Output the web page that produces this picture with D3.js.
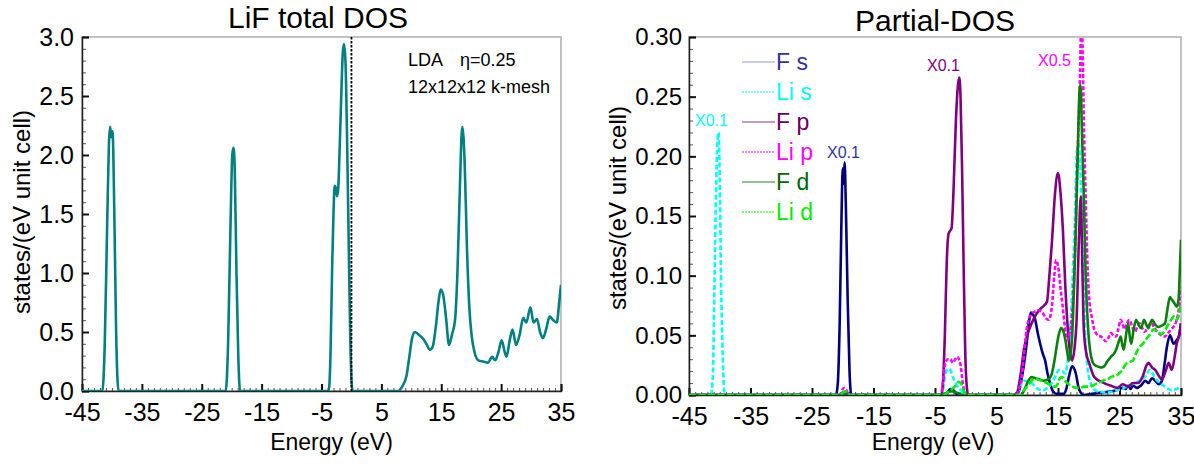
<!DOCTYPE html>
<html>
<head>
<meta charset="utf-8">
<script src="https://cdn.jsdelivr.net/npm/d3@7"></script>
<style>
  body { margin: 0; background: #fff; }
  svg { display: block; font-family: "Liberation Sans", Arial, sans-serif; }
</style>
</head>
<body>
<svg id="chart" width="1194" height="467"></svg>
<script>
// ---- data: energy (eV) vs density of states ----
const energyDomain = [-45, 35];
const energyTicks = [-45, -35, -25, -15, -5, 5, 15, 25, 35];
const totalTicks = [0, 0.5, 1.0, 1.5, 2.0, 2.5, 3.0];
const partialTicks = [0, 0.05, 0.10, 0.15, 0.20, 0.25, 0.30];

const totalDOS = [
  [-45,0],[-41.6,0],[-41.2,0.4],[-40.8,1.4],[-40.5,2.1],[-40.3,2.24],[-40.1,2.15],[-39.9,2.2],[-39.6,1.5],[-39.3,0.5],[-38.9,0],
  [-21,0],[-20.6,0.4],[-20.2,1.4],[-19.9,2.0],[-19.7,2.06],[-19.5,1.9],[-19.2,1.0],[-18.9,0.3],[-18.6,0],
  [-3.8,0],[-3.5,0.3],[-3.2,1.1],[-3.0,1.5],[-2.8,1.74],[-2.6,1.72],[-2.4,1.65],[-2.2,1.72],[-2.0,2.0],[-1.7,2.5],[-1.45,2.86],[-1.25,2.94],[-1.0,2.8],[-0.75,2.2],[-0.5,1.4],[-0.25,0.6],[0,0.1],[0.2,0],
  [7.8,0],[8.5,0.04],[9.2,0.13],[9.7,0.3],[10.1,0.44],[10.6,0.5],[11.4,0.47],[12.0,0.44],[12.5,0.4],[13.1,0.35],[13.6,0.38],[14.1,0.55],[14.6,0.78],[14.9,0.86],[15.3,0.82],[15.8,0.62],[16.3,0.39],[16.8,0.48],[17.3,0.6],[17.7,1.0],[18.1,1.7],[18.5,2.24],[18.9,1.95],[19.3,1.2],[19.7,0.7],[20.1,0.46],[20.6,0.32],[21.2,0.26],[22.0,0.25],[22.8,0.24],[23.5,0.29],[24.0,0.26],[24.5,0.32],[25.1,0.43],[25.6,0.33],[25.9,0.29],[26.4,0.42],[26.9,0.52],[27.5,0.39],[28.1,0.48],[28.7,0.62],[29.2,0.58],[29.9,0.71],[30.4,0.58],[31.0,0.61],[31.5,0.5],[32.0,0.45],[32.5,0.52],[33.1,0.63],[33.7,0.6],[34.3,0.58],[34.7,0.75],[35,0.9]
];

// partial DOS, values as plotted (some channels scaled, see labels)
const fS = [
  [-45,0],[-21.1,0],[-20.8,0.01],[-20.5,0.06],[-20.2,0.15],[-20.0,0.19],[-19.85,0.177],[-19.7,0.195],[-19.5,0.16],[-19.2,0.08],[-18.9,0.02],[-18.6,0],
  [-3.5,0],[-3.0,0.002],[-2.5,0.005],[-2.0,0.004],[-1.5,0.001],[-1,0],
  [8.3,0],[8.8,0.006],[9.3,0.02],[9.9,0.043],[10.3,0.062],[10.6,0.069],[11.0,0.067],[11.3,0.063],[11.7,0.052],[12.1,0.043],[12.5,0.035],[12.9,0.029],[13.3,0.018],[13.7,0.01],[14.2,0.003],[14.8,0.001],[15.9,0.001],[16.4,0.006],[16.8,0.016],[17.3,0.024],[17.9,0.018],[18.4,0.005],[19.2,0],[20.5,0.001],[22,0.002],[23.5,0.003],[24.5,0.004],[25.5,0.006],[26.0,0.005],[26.4,0.008],[26.8,0.005],[27.2,0.008],[27.8,0.006],[28.5,0.008],[29.2,0.012],[29.7,0.01],[30.3,0.014],[30.8,0.012],[31.4,0.009],[31.9,0.012],[32.3,0.025],[32.7,0.04],[33.2,0.05],[33.8,0.043],[34.3,0.046],[34.7,0.05],[35,0.06]
];
const liS = [
  [-45,0],[-41.4,0],[-41.1,0.02],[-40.9,0.08],[-40.6,0.17],[-40.4,0.21],[-40.2,0.22],[-40.0,0.18],[-39.8,0.1],[-39.5,0.03],[-39.2,0],
  [-20.6,0],[-20.0,0.002],[-19.5,0.002],[-19,0],
  [-3.9,0],[-3.6,0.008],[-3.3,0.018],[-2.8,0.022],[-2.5,0.021],[-2.1,0.015],[-1.65,0.01],[-1.2,0.006],[-0.8,0.004],[-0.3,0.001],[0,0],
  [8.2,0],[8.8,0.007],[9.6,0.012],[10.2,0.011],[10.7,0.01],[11.5,0.006],[12.6,0.004],[13.3,0.006],[14,0.01],[14.6,0.016],[15.1,0.021],[15.7,0.02],[16.2,0.018],[16.6,0.03],[17.0,0.055],[17.4,0.1],[17.7,0.138],[18.1,0.205],[18.4,0.21],[18.6,0.195],[19.0,0.124],[19.3,0.07],[19.5,0.04],[20.3,0.01],[21.4,0.003],[23,0.002],[24.5,0.004],[25.8,0.006],[26.5,0.008],[27.5,0.01],[28.3,0.012],[29.1,0.015],[29.9,0.021],[30.4,0.018],[30.8,0.014],[31.6,0.01],[32.4,0.007],[33.5,0.004],[34.3,0.005],[35,0.007]
];
const fP = [
  [-45,0],[-20.5,0],[-20,0.002],[-19.5,0.001],[-19,0],
  [-4.0,0],[-3.7,0.01],[-3.4,0.05],[-3.1,0.11],[-2.8,0.135],[-2.5,0.138],[-2.3,0.14],[-2.0,0.17],[-1.6,0.23],[-1.3,0.258],[-1.05,0.266],[-0.85,0.25],[-0.6,0.19],[-0.35,0.11],[-0.1,0.04],[0.15,0.008],[0.4,0],
  [8.2,0],[8.7,0.01],[9.0,0.02],[9.45,0.038],[10.0,0.05],[10.7,0.06],[11.5,0.068],[12.3,0.073],[13.2,0.078],[13.6,0.1],[14.0,0.127],[14.5,0.168],[15.0,0.186],[15.4,0.17],[15.8,0.138],[16.2,0.09],[16.6,0.055],[17.0,0.035],[17.3,0.029],[17.7,0.04],[18.0,0.06],[18.4,0.13],[18.7,0.166],[18.95,0.11],[19.2,0.055],[19.6,0.035],[20.05,0.027],[20.9,0.015],[22.5,0.01],[23.5,0.008],[24.7,0.006],[25.5,0.009],[26.4,0.007],[27.2,0.01],[28,0.01],[28.8,0.016],[29.4,0.025],[29.7,0.027],[30.3,0.023],[30.8,0.021],[31.4,0.016],[31.9,0.013],[32.5,0.02],[33,0.027],[33.5,0.021],[34.0,0.033],[34.3,0.043],[34.7,0.05],[35,0.06]
];
const liP = [
  [-45,0],[-20.5,0],[-20,0.005],[-19.7,0.006],[-19.3,0.003],[-19,0],
  [-4.0,0],[-3.7,0.012],[-3.3,0.027],[-2.9,0.03],[-2.5,0.03],[-2.1,0.027],[-1.7,0.03],[-1.4,0.032],[-1.1,0.03],[-0.8,0.024],[-0.5,0.01],[-0.2,0.003],[0.1,0],
  [8.3,0],[8.7,0.006],[9.1,0.015],[9.5,0.035],[9.9,0.055],[10.3,0.064],[10.7,0.068],[11.3,0.07],[11.8,0.071],[12.2,0.07],[12.6,0.068],[13.1,0.064],[13.5,0.063],[14.0,0.074],[14.4,0.1],[14.7,0.113],[15.1,0.105],[15.4,0.09],[15.7,0.077],[16.1,0.058],[16.5,0.046],[16.9,0.052],[17.3,0.068],[17.7,0.11],[18.0,0.166],[18.3,0.22],[18.6,0.27],[18.8,0.32],[19.0,0.29],[19.2,0.23],[19.5,0.166],[19.8,0.11],[20.05,0.082],[20.5,0.065],[20.9,0.055],[21.5,0.05],[22.0,0.049],[22.8,0.045],[23.2,0.048],[23.6,0.052],[24.0,0.05],[24.45,0.049],[24.8,0.055],[25.2,0.063],[25.5,0.06],[25.8,0.055],[26.2,0.06],[26.6,0.063],[27.0,0.058],[27.5,0.053],[27.9,0.057],[28.3,0.06],[28.7,0.056],[29.1,0.053],[29.7,0.058],[30.2,0.06],[30.7,0.056],[31.3,0.052],[31.8,0.05],[32.4,0.049],[32.9,0.052],[33.4,0.055],[34.1,0.06],[34.6,0.07],[35,0.09]
];
const fD = [
  [-45,0],[-20.5,0],[-20,0.002],[-19.5,0.001],[-19,0],
  [-4,0],[-3.5,0.001],[-3,0.002],[-2.5,0.003],[-2,0.003],[-1.5,0.002],[-1,0.001],[-0.5,0],
  [9.0,0],[9.5,0.004],[10.0,0.01],[10.7,0.015],[11.3,0.014],[12.0,0.013],[12.7,0.012],[13.2,0.0125],[13.6,0.014],[14.0,0.018],[14.4,0.028],[14.7,0.038],[15.1,0.05],[15.5,0.056],[15.9,0.053],[16.2,0.046],[16.5,0.036],[16.75,0.029],[17.0,0.033],[17.3,0.049],[17.6,0.09],[17.9,0.138],[18.2,0.2],[18.5,0.255],[18.65,0.26],[18.9,0.22],[19.2,0.166],[19.5,0.1],[19.9,0.055],[20.2,0.038],[20.6,0.028],[21.0,0.025],[21.4,0.024],[22.0,0.023],[22.5,0.024],[23.0,0.028],[23.6,0.032],[24.0,0.034],[24.45,0.038],[24.9,0.045],[25.2,0.049],[25.45,0.042],[25.7,0.038],[26.0,0.048],[26.4,0.06],[26.65,0.05],[26.9,0.043],[27.3,0.055],[27.7,0.063],[28.1,0.059],[28.5,0.056],[29.0,0.063],[29.35,0.059],[29.7,0.056],[30.0,0.06],[30.3,0.063],[30.8,0.059],[31.3,0.057],[31.8,0.058],[32.4,0.06],[32.8,0.072],[33.2,0.082],[33.5,0.08],[33.8,0.078],[34.3,0.074],[34.6,0.08],[34.85,0.11],[35,0.13]
];
const liD = [
  [-45,0],[-20.5,0],[-20,0.002],[-19.6,0.003],[-19.2,0.001],[-18.8,0],
  [-3.5,0],[-3.0,0.002],[-2.5,0.004],[-2.0,0.006],[-1.6,0.008],[-1.2,0.011],[-0.8,0.01],[-0.5,0.006],[-0.2,0.002],[0.2,0],
  [9.0,0],[9.3,0.003],[9.8,0.006],[10.4,0.01],[10.9,0.013],[11.3,0.014],[11.7,0.013],[12.1,0.0125],[12.6,0.011],[13.2,0.01],[13.9,0.008],[14.6,0.007],[15.0,0.01],[15.3,0.014],[15.7,0.015],[16.1,0.012],[16.5,0.01],[17.3,0.007],[18.1,0.006],[18.7,0.006],[19.2,0.007],[20.0,0.007],[20.7,0.008],[21.4,0.01],[22.0,0.011],[22.5,0.0125],[23.0,0.013],[23.6,0.015],[24.2,0.016],[24.7,0.017],[25.1,0.019],[25.5,0.021],[25.9,0.025],[26.4,0.027],[26.8,0.028],[27.2,0.029],[27.6,0.034],[28.0,0.038],[28.4,0.041],[28.8,0.043],[29.2,0.046],[29.7,0.049],[30.1,0.052],[30.5,0.055],[30.9,0.054],[31.3,0.053],[31.7,0.051],[32.1,0.052],[32.6,0.056],[33.0,0.06],[33.4,0.063],[33.8,0.066],[34.3,0.063],[34.7,0.068],[35,0.077]
];

const seriesNames = ["F s", "Li s", "F p", "Li p", "F d", "Li d"];
const seriesData = [fS, liS, fP, liP, fD, liD];

// ---- styling ----
const seriesStyle = [
  { stroke: "#000080", text: "#333399", legend: "#9999cc", dash: null },
  { stroke: "#00ffff", text: "#00ffff", legend: "#00ffff", dash: "5,2.5" },
  { stroke: "#800080", text: "#660066", legend: "#804080", dash: null },
  { stroke: "#ff00ff", text: "#ff00ff", legend: "#ff00ff", dash: "4,2" },
  { stroke: "#0a800a", text: "#006600", legend: "#2f7f2f", dash: null },
  { stroke: "#00ee00", text: "#00ee00", legend: "#00ee00", dash: "7,2.5" }
];

const svg = d3.select("#chart");
const plainNumber = digits => d => d.toFixed(digits);

function panel(opts) {
  const g = svg.append("g");
  const x = d3.scaleLinear().domain(energyDomain).range([opts.left, opts.right]);
  const y = d3.scaleLinear().domain(opts.yDomain).range([opts.bottom, opts.top]);
  const clipId = opts.id + "-clip";
  svg.append("clipPath").attr("id", clipId).append("rect")
    .attr("x", opts.left).attr("y", opts.top)
    .attr("width", opts.right - opts.left).attr("height", opts.bottom - opts.top);

  // frame
  g.append("rect").attr("x", opts.left).attr("y", opts.top)
    .attr("width", opts.right - opts.left).attr("height", opts.bottom - opts.top)
    .attr("fill", "none").attr("stroke", "#999").attr("stroke-width", 1.2);

  // minor ticks
  const xMinor = d3.range(energyDomain[0], energyDomain[1] + 0.001, 1);
  const xMinorAxis = g.append("g").attr("transform", `translate(0,${opts.bottom})`)
    .call(d3.axisBottom(x).tickValues(xMinor).tickSize(-3).tickFormat(""));
  xMinorAxis.select(".domain").remove();
  xMinorAxis.selectAll("line").attr("stroke", "#555").attr("stroke-width", 1);

  const yMinorAxis = g.append("g").attr("transform", `translate(${opts.left},0)`)
    .call(d3.axisLeft(y).tickValues(opts.yMinor).tickSize(-4).tickFormat(""));
  yMinorAxis.select(".domain").remove();
  yMinorAxis.selectAll("line").attr("stroke", "#555").attr("stroke-width", 1);

  // major ticks and labels
  const xAxis = g.append("g").attr("transform", `translate(0,${opts.bottom})`)
    .call(d3.axisBottom(x).tickValues(energyTicks).tickSize(-7).tickPadding(11).tickFormat(plainNumber(0)));
  xAxis.select(".domain").attr("stroke", "#222").attr("stroke-width", 1.5);
  xAxis.selectAll("line").attr("stroke", "#111").attr("stroke-width", 2);
  xAxis.selectAll("text").attr("font-size", 25).attr("fill", "#000")
    .attr("font-family", "Liberation Sans, Arial, sans-serif").attr("dy", "0.76em");

  const yAxis = g.append("g").attr("transform", `translate(${opts.left},0)`)
    .call(d3.axisLeft(y).tickValues(opts.yTicks).tickSize(-7).tickPadding(opts.yPad).tickFormat(plainNumber(opts.yDigits)));
  yAxis.select(".domain").attr("stroke", "#222").attr("stroke-width", 1.5);
  yAxis.selectAll("line").attr("stroke", "#111").attr("stroke-width", 2);
  yAxis.selectAll("text").attr("font-size", opts.yFont).attr("fill", "#000")
    .attr("font-family", "Liberation Sans, Arial, sans-serif");

  // title and axis titles
  g.append("text").attr("x", opts.titleX).attr("y", opts.titleY)
    .attr("text-anchor", "middle").attr("font-size", 30).text(opts.title);
  g.append("text").attr("x", (opts.left + opts.right) / 2 + opts.xLabelShift).attr("y", 450)
    .attr("text-anchor", "middle").attr("font-size", 23).text("Energy (eV)");
  g.append("text").attr("transform", `translate(${opts.yLabelX},${opts.yLabelY}) rotate(-90)`)
    .attr("text-anchor", "middle").attr("font-size", 24).text("states/(eV unit cell)");

  const plot = g.append("g").attr("clip-path", `url(#${clipId})`);
  return { g, plot, x, y };
}

const line = (x, y) => d3.line().x(d => x(d[0])).y(d => y(d[1])).curve(d3.curveMonotoneX);

// ---- left panel: total DOS ----
const L = panel({
  id: "total", left: 82, right: 561, top: 37, bottom: 391,
  yDomain: [0, 3], yTicks: totalTicks, yMinor: d3.range(0, 3.001, 0.1),
  yDigits: 1, yFont: 25, yPad: 8,
  title: "LiF total DOS", titleX: 318, titleY: 28,
  xLabelShift: 10, yLabelX: 30, yLabelY: 212
});
L.plot.append("path").datum(totalDOS)
  .attr("d", line(L.x, L.y)).attr("fill", "none")
  .attr("stroke", "#008080").attr("stroke-width", 2.6).attr("stroke-linejoin", "round");
// Fermi level
L.g.append("line").attr("x1", L.x(0)).attr("x2", L.x(0))
  .attr("y1", 37).attr("y2", 391)
  .attr("stroke", "#000").attr("stroke-width", 1.8).attr("stroke-dasharray", "2.5,1.5");
L.g.append("text").attr("x", 408).attr("y", 66).attr("font-size", 18).text("LDA");
L.g.append("text").attr("x", 460).attr("y", 66).attr("font-size", 18).text("\u03b7=0.25");
L.g.append("text").attr("x", 408).attr("y", 93).attr("font-size", 18).text("12x12x12 k-mesh");

// ---- right panel: partial DOS ----
const R = panel({
  id: "partial", left: 689, right: 1181, top: 37, bottom: 395,
  yDomain: [0, 0.3], yTicks: partialTicks, yMinor: d3.range(0, 0.3001, 0.01),
  yDigits: 2, yFont: 24, yPad: 7,
  title: "Partial-DOS", titleX: 935, titleY: 31,
  xLabelShift: -2, yLabelX: 626, yLabelY: 208
});
seriesData.forEach((data, i) => {
  const s = seriesStyle[i];
  R.plot.append("path").datum(data)
    .attr("d", line(R.x, R.y)).attr("fill", "none")
    .attr("stroke", s.stroke).attr("stroke-width", 2.6)
    .attr("stroke-dasharray", s.dash).attr("stroke-linejoin", "round");
});

// legend
const legend = R.g.append("g");
seriesNames.forEach((name, i) => {
  const s = seriesStyle[i];
  const cy = 62 + i * 30;
  legend.append("line").attr("x1", 742).attr("x2", 775).attr("y1", cy).attr("y2", cy)
    .attr("stroke", s.legend).attr("stroke-width", 1.2)
    .attr("stroke-dasharray", s.dash ? "2,1" : null);
  legend.append("text").attr("x", 776).attr("y", cy + 8)
    .attr("font-size", 23).attr("fill", s.text).text(name);
});

// scale-factor notes
const notes = [
  { text: "X0.1", x: 695, y: 126, color: "#00ffff" },
  { text: "X0.1", x: 827, y: 158, color: "#333399" },
  { text: "X0.1", x: 927, y: 71, color: "#800080" },
  { text: "X0.5", x: 1038, y: 66, color: "#ff00ff" }
];
R.g.selectAll(".note").data(notes).enter().append("text")
  .attr("class", "note").attr("x", d => d.x).attr("y", d => d.y)
  .attr("font-size", 16).attr("fill", d => d.color).text(d => d.text);
</script>
</body>
</html>
